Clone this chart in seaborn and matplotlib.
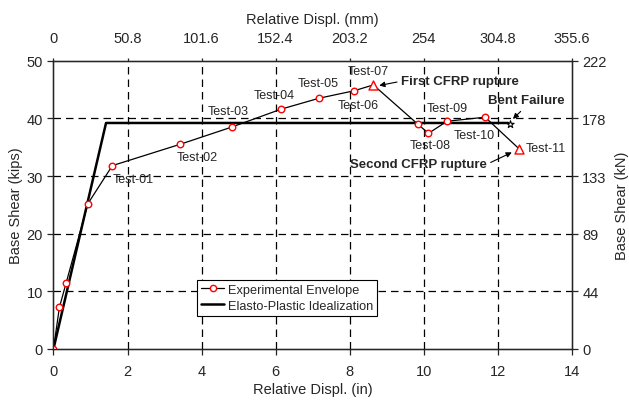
import numpy as np
import pandas as pd
import matplotlib
matplotlib.use("Agg")
import matplotlib.pyplot as plt
import seaborn as sns
from matplotlib.lines import Line2D

# Experimental envelope (in, kips)
exp_x = [0.0, 0.16, 0.34, 0.93, 1.59, 3.42, 4.82, 6.15, 7.18, 8.13, 8.64,
         9.84, 10.13, 10.63, 11.66, 12.58]
exp_y = [0.0, 7.2, 11.4, 25.2, 31.8, 35.5, 38.5, 41.6, 43.5, 44.8, 45.8,
         39.0, 37.4, 39.5, 40.2, 34.7]
# CFRP rupture points (triangles)
rupt_x = [8.64, 12.58]
rupt_y = [45.8, 34.7]
# Elasto-plastic idealization
ep_x = [0.0, 1.42, 12.28]
ep_y = [0.0, 39.2, 39.2]
# Bent failure
bent_x = [12.32]
bent_y = [39.0]

test_labels = ["Test-01", "Test-02", "Test-03", "Test-04", "Test-05", "Test-06",
               "Test-07", "Test-08", "Test-09", "Test-10", "Test-11"]
label_x = [2.15, 3.88, 4.71, 5.96, 7.15, 8.23, 8.50, 10.18, 10.63, 11.36, 13.31]
label_y = [29.5, 33.3, 41.2, 44.0, 46.1, 42.3, 48.2, 35.4, 41.8, 37.1, 34.8]

x_ticks_in = [0, 2, 4, 6, 8, 10, 12, 14]
x_ticks_mm = ["0", "50.8", "101.6", "152.4", "203.2", "254", "304.8", "355.6"]
y_ticks_kips = [0, 10, 20, 30, 40, 50]
y_ticks_kn = ["0", "44", "89", "133", "178", "222"]

sns.set_style("ticks")
plt.rcParams['font.family'] = ['Liberation Sans', 'DejaVu Sans']
plt.rcParams['font.size'] = 10

fig = plt.figure(figsize=(6.29, 4.02), dpi=100)
ax = fig.add_axes([0.085, 0.1294, 0.824, 0.7171])

# grid
for gx in x_ticks_in[1:-1]:
    ax.axvline(gx, color="black", lw=0.9, ls=(0, (6, 4)), zorder=0)
for gy in y_ticks_kips[1:-1]:
    ax.axhline(gy, color="black", lw=0.9, ls=(0, (6, 4)), zorder=0)

ep = pd.DataFrame({"x": ep_x, "y": ep_y})
sns.lineplot(data=ep, x="x", y="y", sort=False, estimator=None,
             color="black", lw=1.8, ax=ax, zorder=2)

exp = pd.DataFrame({"x": exp_x, "y": exp_y})
sns.lineplot(data=exp, x="x", y="y", sort=False, estimator=None,
             color="black", lw=0.9, ax=ax, zorder=3)
circ = exp[~exp["x"].isin(rupt_x)]
ax.scatter(circ["x"], circ["y"], s=22, facecolor="white", edgecolor="red",
           lw=1.0, zorder=4)
ax.scatter(rupt_x, rupt_y, s=42, marker="^", facecolor="white",
           edgecolor="red", lw=1.0, zorder=4)
ax.scatter(bent_x, bent_y, s=30, marker="*", facecolor="white",
           edgecolor="black", lw=0.8, zorder=4)

for t, lx, ly in zip(test_labels, label_x, label_y):
    ax.text(lx, ly, t, ha="center", va="center", fontsize=9, zorder=5)

bold = dict(fontsize=9.5, fontweight="bold", ha="center", va="center", zorder=5)
ax.text(10.97, 46.4, "First CFRP rupture", **bold)
ax.text(12.76, 43.2, "Bent Failure", **bold)
ax.text(9.86, 32.1, "Second CFRP rupture", **bold)

arrow = dict(arrowstyle="-|>", color="black", lw=0.8, mutation_scale=8,
             shrinkA=0, shrinkB=0)
ax.annotate("", xy=(8.80, 45.7), xytext=(9.28, 46.3), arrowprops=arrow)
ax.annotate("", xy=(12.41, 39.9), xytext=(12.62, 41.2), arrowprops=arrow)
ax.annotate("", xy=(12.38, 34.1), xytext=(11.81, 32.35), arrowprops=arrow)

ax.set_xlim(0, 14)
ax.set_ylim(0, 50)
ax.set_xticks(x_ticks_in)
ax.set_yticks(y_ticks_kips)
ax.set_xlabel("Relative Displ. (in)", fontsize=10.5, labelpad=3)
ax.set_ylabel("Base Shear (kips)", fontsize=10.5, labelpad=3)
ax.tick_params(labelsize=10.5, length=4, width=0.9)
ax.tick_params(axis="x", pad=7)
for s in ax.spines.values():
    s.set_linewidth(1.0)
    s.set_visible(True)

axt = ax.twiny()
axt.set_xlim(0, 14)
axt.set_xticks(x_ticks_in)
axt.set_xticklabels(x_ticks_mm)
axt.set_xlabel("Relative Displ. (mm)", fontsize=10.5, labelpad=6)
axt.tick_params(labelsize=10.5, length=2, width=0.9, pad=9)

axr = ax.twinx()
axr.set_ylim(0, 50)
axr.set_yticks(y_ticks_kips)
axr.set_yticklabels(y_ticks_kn)
axr.set_ylabel("Base Shear (kN)", fontsize=10.5, labelpad=6)
axr.tick_params(labelsize=10.5, length=4, width=0.9)

handles = [
    Line2D([], [], color="black", lw=0.9, marker="o", markersize=4.5,
           markerfacecolor="white", markeredgecolor="red"),
    Line2D([], [], color="black", lw=1.8),
]
leg = ax.legend(handles, ["Experimental Envelope", "Elasto-Plastic Idealization"],
                loc="upper left", bbox_to_anchor=(0.2775, 0.239),
                fontsize=9.2, frameon=True, fancybox=False, framealpha=1,
                edgecolor="black", borderpad=0.3, labelspacing=0.3,
                handlelength=1.8, handletextpad=0.3, borderaxespad=0)
leg.get_frame().set_linewidth(0.8)

fig.savefig("out.png", dpi=100)
